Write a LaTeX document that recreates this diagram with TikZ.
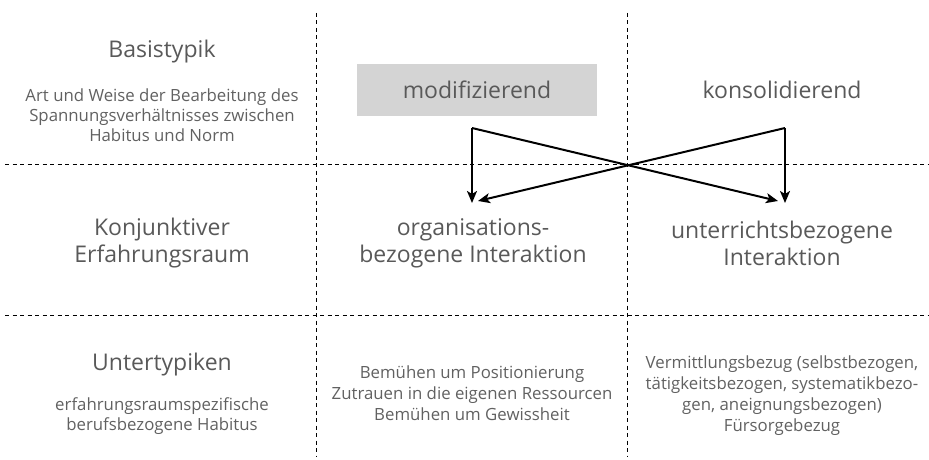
\documentclass[tikz,border=0pt]{standalone}
\usepackage{fontspec}
\setmainfont{Open Sans}
\usetikzlibrary{arrows.meta}

\begin{document}
\begin{tikzpicture}
                \tikzset{x=1pt, y=-1pt}
                \tikzstyle{head}=[text=black!65, align=center, inner sep=0pt, font=\fontsize{23}{27}\selectfont]
                \tikzstyle{note}=[text=black!62, align=center, inner sep=0pt, font=\fontsize{16.8}{21}\selectfont]
                \tikzstyle{type}=[head, fill=black!17, minimum width=240, minimum height=51]
                \tikzstyle{grid}=[line width=0.9pt, dash pattern=on 4pt off 3.5pt]
                \tikzstyle{flow}=[line width=2pt, -{Stealth[length=12pt, width=10pt, inset=3pt]}]

                \useasboundingbox (0,0) rectangle (929,460);

                % raster
                \draw[grid] (316,13)  -- (316,457);
                \draw[grid] (627,13)  -- (627,457);
                \draw[grid] (5,164)   -- (929,164);
                \draw[grid] (5,315)   -- (929,315);

                % linke Spalte
                \draw (162,52)      node[head]  (basis)  {Basistypik};
                \draw (162,115)     node[note, font=\fontsize{16.8}{20}\selectfont] (basisd) {Art und Weise der Bearbeitung des\\Spannungsverh\"altnisses zwischen\\Habitus und Norm};
                \draw (162,243.5)   node[head]  (konj)   {Konjunktiver\\Erfahrungsraum};
                \draw (162,365)     node[head]  (unter)  {Untertypiken};
                \draw (162,416)     node[note, font=\fontsize{16.8}{20}\selectfont] (unterd) {erfahrungsraumspezifische\\berufsbezogene Habitus};

                % Basistypen
                \draw (477,90)      node[type]  (mod)    {modifizierend};
                \draw (782,90)      node[head]  (kon)    {konsolidierend};

                % Erfahrungsraeume
                \draw (473,243.5)   node[head]  (org)    {organisations-\\bezogene Interaktion};
                \draw (782,243.5)   node[head]  (unt)    {unterrichtsbezogene\\Interaktion};

                % Untertypen
                \draw (472,393.5)   node[note]  (orgd)   {Bem\"uhen um Positionierung\\Zutrauen in die eigenen Ressourcen\\Bem\"uhen um Gewissheit};
                \draw (782,395.5)   node[note]  (untd)   {Vermittlungsbezug (selbstbezogen,\\t\"atigkeitsbezogen, systematikbezo-\\gen, aneignungsbezogen)\\F\"ursorgebezug};

                \coordinate (modout) at (472,128);
                \coordinate (konout) at (785,128);
                \coordinate (orgin)  at (472,203);
                \coordinate (untin)  at (785,203);
                \coordinate (orgx)   at (478,201);
                \coordinate (untx)   at (778,201);

                \draw [flow]        (modout) -- (orgin);
                \draw [flow]        (modout) -- (untx);
                \draw [flow]        (konout) -- (untin);
                \draw [flow]        (konout) -- (orgx);
            \end{tikzpicture}
\end{document}
